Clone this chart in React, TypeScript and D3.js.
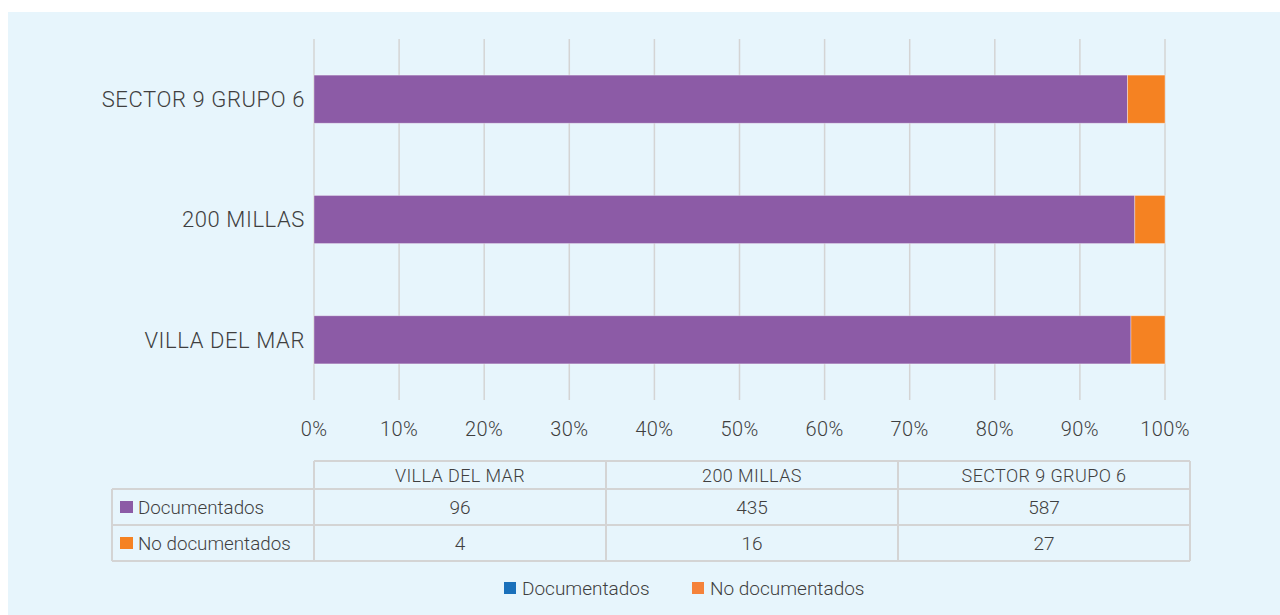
import { useRef, useEffect } from 'react';
import * as d3 from 'd3';

const categories = ['VILLA DEL MAR', '200 MILLAS', 'SECTOR 9 GRUPO 6'];
const seriesNames = ['Documentados', 'No documentados'];
const documentados = [96, 435, 587];
const noDocumentados = [4, 16, 27];
const tickValues = [0, 0.1, 0.2, 0.3, 0.4, 0.5, 0.6, 0.7, 0.8, 0.9, 1];

const barColors = ['#8c5ba6', '#f58222'];
const legendColors = ['#1a70ba', '#f5823a'];

const W = 1280;
const H = 615;
const FONT = 'Roboto, "Noto Sans", sans-serif';
const TEXT = '#3f3f3f';
const GRID = '#d4d4d4';

export default function App() {
  const ref = useRef<SVGSVGElement>(null);

  useEffect(() => {
    const svg = d3.select(ref.current);
    svg.selectAll('*').remove();

    svg
      .append('rect')
      .attr('x', 8)
      .attr('y', 12)
      .attr('width', W - 8)
      .attr('height', H - 12)
      .attr('fill', '#e7f5fc');

    const x = d3.scaleLinear().domain([0, 1]).range([314, 1165]);
    const yCats = [...categories].reverse(); // top: SECTOR
    const y = d3.scaleBand().domain(yCats).range([39, 400]).paddingInner(0.6).paddingOuter(0.3);

    // gridlines
    svg
      .append('g')
      .selectAll('line')
      .data(tickValues)
      .join('line')
      .attr('x1', (d) => x(d))
      .attr('x2', (d) => x(d))
      .attr('y1', 39)
      .attr('y2', 400)
      .attr('stroke', GRID)
      .attr('stroke-width', 1.5);

    // stacked data as shares
    const rows = categories.map((c, i) => {
      const total = documentados[i] + noDocumentados[i];
      return { cat: c, Documentados: documentados[i] / total, 'No documentados': noDocumentados[i] / total };
    });
    const stack = d3.stack<any>().keys(seriesNames)(rows);

    svg
      .append('g')
      .selectAll('g')
      .data(stack)
      .join('g')
      .attr('fill', (_, i) => barColors[i])
      .selectAll('rect')
      .data((d) => d)
      .join('rect')
      .attr('x', (d) => x(d[0]))
      .attr('width', (d) => x(d[1]) - x(d[0]))
      .attr('y', (d) => y(d.data.cat)!)
      .attr('height', y.bandwidth())
      .attr('stroke', 'rgba(255,255,255,0.45)')
      .attr('stroke-width', 0.8);

    // x tick labels
    svg
      .append('g')
      .selectAll('text')
      .data(tickValues)
      .join('text')
      .attr('x', (d) => x(d))
      .attr('y', 436)
      .attr('text-anchor', 'middle')
      .attr('font-family', FONT)
      .attr('font-size', 20)
      .attr('font-weight', 300)
      .attr('letter-spacing', 0.4)
      .attr('fill', TEXT)
      .text((d) => d3.format('.0%')(d));

    // category labels
    svg
      .append('g')
      .selectAll('text')
      .data(yCats)
      .join('text')
      .attr('x', 305)
      .attr('y', (d) => y(d)! + y.bandwidth() / 2)
      .attr('dy', '0.35em')
      .attr('text-anchor', 'end')
      .attr('font-family', FONT)
      .attr('font-size', 22)
      .attr('font-weight', 300)
      .attr('letter-spacing', 0.6)
      .attr('fill', TEXT)
      .text((d) => d);

    // data table
    const colX = d3.scaleBand().domain(categories).range([314, 1190]);
    const tTop = 461;
    const hdrH = 28;
    const rowH = 36;
    const tBottom = tTop + hdrH + rowH * 2;
    const tLeft = 112;
    const tbl = svg.append('g').attr('stroke', GRID).attr('stroke-width', 2).attr('fill', 'none');

    // horizontal lines
    tbl.append('line').attr('x1', 314).attr('x2', 1190).attr('y1', tTop).attr('y2', tTop);
    [tTop + hdrH, tTop + hdrH + rowH, tBottom].forEach((yy) =>
      tbl.append('line').attr('x1', tLeft).attr('x2', 1190).attr('y1', yy).attr('y2', yy)
    );
    // vertical lines
    tbl.append('line').attr('x1', tLeft).attr('x2', tLeft).attr('y1', tTop + hdrH).attr('y2', tBottom);
    [...categories.map((c) => colX(c)!), 1190].forEach((xx) =>
      tbl.append('line').attr('x1', xx).attr('x2', xx).attr('y1', tTop).attr('y2', tBottom)
    );

    const cellText = (g: any) =>
      g.attr('font-family', FONT).attr('font-weight', 300).attr('fill', TEXT).attr('dy', '0.35em');

    svg
      .append('g')
      .selectAll('text')
      .data(categories)
      .join('text')
      .attr('x', (d) => colX(d)! + colX.bandwidth() / 2)
      .attr('y', tTop + hdrH / 2 + 1)
      .attr('text-anchor', 'middle')
      .attr('font-size', 18)
      .attr('letter-spacing', 0.4)
      .call(cellText)
      .text((d) => d);

    const seriesVals = [documentados, noDocumentados];
    seriesNames.forEach((name, si) => {
      const cy = tTop + hdrH + rowH * si + rowH / 2;
      svg
        .append('rect')
        .attr('x', 120)
        .attr('y', cy - 6)
        .attr('width', 13)
        .attr('height', 12)
        .attr('fill', barColors[si]);
      svg
        .append('text')
        .attr('x', 138)
        .attr('y', cy)
        .attr('font-size', 18.8)
        .call(cellText)
        .text(name);
      svg
        .append('g')
        .selectAll('text')
        .data(categories)
        .join('text')
        .attr('x', (d) => colX(d)! + colX.bandwidth() / 2)
        .attr('y', cy)
        .attr('text-anchor', 'middle')
        .attr('font-size', 19)
        .call(cellText)
        .text((_, i) => seriesVals[si][i]);
    });

    // bottom legend
    const legendX = [504, 692];
    seriesNames.forEach((name, i) => {
      svg
        .append('rect')
        .attr('x', legendX[i])
        .attr('y', 582)
        .attr('width', 12)
        .attr('height', 12)
        .attr('fill', legendColors[i]);
      svg
        .append('text')
        .attr('x', legendX[i] + 18)
        .attr('y', 588)
        .attr('dy', '0.35em')
        .attr('font-family', FONT)
        .attr('font-size', 19)
        .attr('font-weight', 300)
        .attr('fill', TEXT)
        .text(name);
    });
  }, []);

  return (
    <svg
      ref={ref}
      width={W}
      height={H}
      style={{ position: 'absolute', left: 0, top: 0, display: 'block' }}
    />
  );
}
